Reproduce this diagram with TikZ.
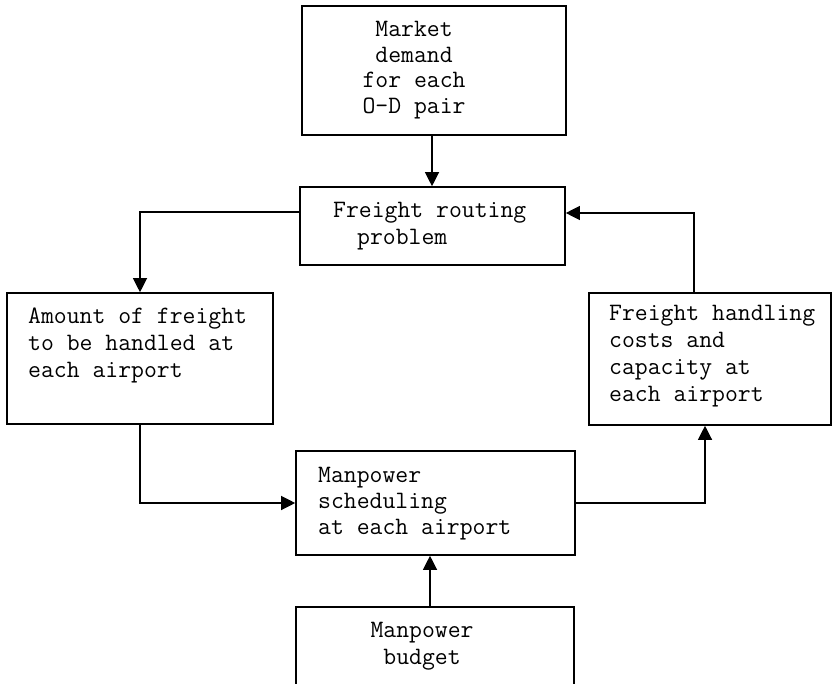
\documentclass[tikz,border=0pt]{standalone}
\usepackage{fontspec}
\usetikzlibrary{arrows.meta}
\begin{document}
\begin{tikzpicture}[x=1pt,y=-1pt,
  box/.style={draw, line width=1.6pt, rectangle, inner sep=0pt},
  txt/.style={font=\ttfamily\fontsize{25}{27}\selectfont, inner sep=0pt},
  arr/.style={line width=1.2pt, -{Triangle[length=14pt,width=14pt]}},
]
\useasboundingbox (0,0) rectangle (834,684);
\clip (0,0) rectangle (834,684);
\node[box, minimum width=264pt, minimum height=129pt] (b1) at (434,70.5) {};
\node[box, minimum width=265pt, minimum height=78pt] (b2) at (432.5,226) {};
\node[box, minimum width=266pt, minimum height=131pt] (b3) at (140,358.5) {};
\node[box, minimum width=242pt, minimum height=132pt] (b4) at (710,359) {};
\node[box, minimum width=279pt, minimum height=104pt] (b5) at (435.5,503) {};
\node[box, minimum width=278pt, minimum height=113pt] (b6) at (435,663.5) {};

\node[txt, align=center, font=\ttfamily\fontsize{25}{25.5}\selectfont] (t1) at (414,70) {Market\\demand\\for each\\O-D pair};
\node[txt, align=left, anchor=west] (t2) at (333,226) {Freight routing\\\hspace*{24pt}problem};
\node[txt, align=left, anchor=west] (t3) at (28,345) {Amount of freight\\to be handled at\\each airport};
\node[txt, align=left, anchor=west] (t4) at (609,356) {Freight handling\\costs and\\capacity at\\each airport};
\node[txt, align=left, anchor=west, font=\ttfamily\fontsize{25}{26}\selectfont] (t5) at (318,504) {Manpower\\scheduling\\at each airport};
\node[txt, align=center] (t6) at (422,646) {Manpower\\budget};

\draw[arr] ([xshift=-2pt]b1.south) -- ([xshift=-0.5pt]b2.north);
\draw[arr] ([yshift=14pt]b2.west) -| (b3.north);
\draw[arr] (b3.south) |- (b5.west);
\draw[arr] (b5.east) -| ([xshift=-5pt]b4.south);
\draw[arr] ([xshift=-16pt]b4.north) |- ([yshift=13pt]b2.east);
\draw[arr] ([xshift=-5pt]b6.north) -- ([xshift=-5.5pt]b5.south);
\end{tikzpicture}
\end{document}
